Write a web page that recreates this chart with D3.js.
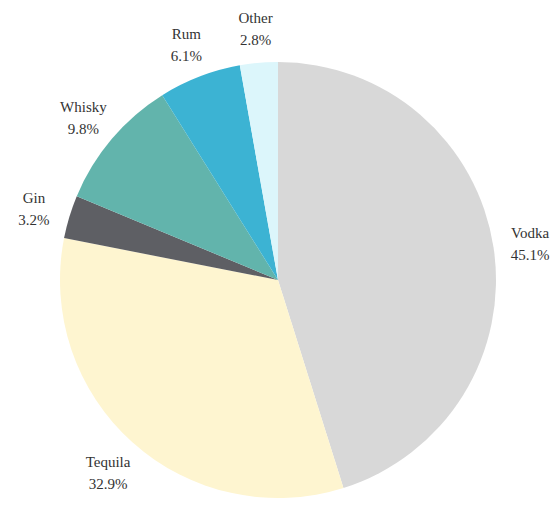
<!DOCTYPE html>
<html>
<head>
<meta charset="utf-8">
<script src="https://cdn.jsdelivr.net/npm/d3@7"></script>
<style>
  body { margin: 0; background: #fff; }
  text { font-family: "Liberation Serif", serif; fill: #333; }
</style>
</head>
<body>
<div class="container"></div>
<script>
const labels = ["Vodka", "Tequila", "Gin", "Whisky", "Rum", "Other"];
const values = [45.1, 32.9, 3.2, 9.8, 6.1, 2.8];
const colors = ["#d8d8d8", "#fef5d0", "#5e5f64", "#62b4ac", "#3cb3d3", "#dcf6fb"];

const width = 559;
const height = 505;
const cx = 278, cy = 280;
const radius = 218;

const svg = d3.select("div.container")
    .append("svg")
    .attr("width", width)
    .attr("height", height);

const g = svg.append("g").attr("transform", `translate(${cx},${cy})`);

const pie = d3.pie().sort(null).value(d => d);
const arcs = pie(values);

const arc = d3.arc().innerRadius(0).outerRadius(radius);
const labelArc = d3.arc().innerRadius(255).outerRadius(255);

g.selectAll("path")
    .data(arcs)
    .enter()
    .append("path")
    .attr("d", arc)
    .attr("fill", (d, i) => colors[i]);

const lab = g.selectAll("text.lab")
    .data(arcs)
    .enter()
    .append("text")
    .attr("class", "lab")
    .attr("text-anchor", "middle")
    .attr("font-size", 15)
    .attr("transform", d => `translate(${labelArc.centroid(d)})`);

lab.append("tspan")
    .attr("x", 0)
    .attr("y", -3)
    .text((d, i) => labels[i]);

lab.append("tspan")
    .attr("x", 0)
    .attr("y", 19)
    .text((d, i) => values[i].toFixed(1) + "%");
</script>
</body>
</html>
